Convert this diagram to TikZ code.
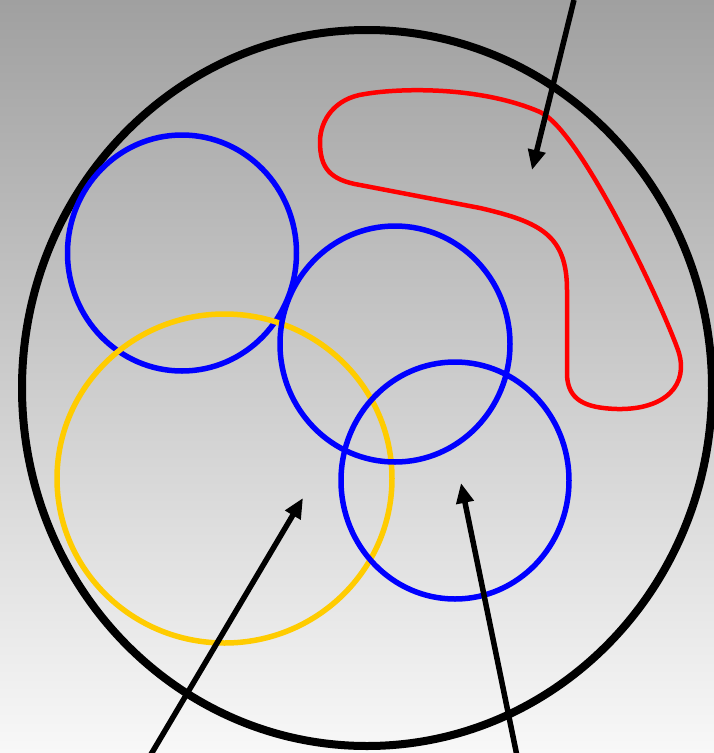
\documentclass[tikz,border=0pt]{standalone}
\usetikzlibrary{arrows.meta}
\definecolor{bgtop}{RGB}{160,160,160}
\definecolor{bgbot}{RGB}{248,248,248}
\definecolor{ringblue}{RGB}{0,0,255}
\definecolor{ringyellow}{RGB}{255,204,0}
\definecolor{loopred}{RGB}{255,0,0}
\tikzset{
  bluering/.style={draw=ringblue, line width=5.5pt},
  yellowring/.style={draw=ringyellow, line width=5.5pt},
  outerring/.style={draw=black, line width=8pt},
  redloop/.style={draw=loopred, line width=4.5pt},
  pointer/.style={draw=black, line width=5.5pt, -{Triangle[length=20pt,width=17pt]}}
}
\begin{document}
\begin{tikzpicture}[x=1pt,y=-1pt]
\useasboundingbox (0,0) rectangle (714,753);
\shade[top color=bgtop, bottom color=bgbot] (0,0) rectangle (714,753);
% outer ring
\draw[outerring] (367,388) ellipse [x radius=345, y radius=358];
% red loop
\draw[redloop] (365,94) .. controls (400,88) and (480,86) .. (540,112)
  .. controls (580,130) and (660,300) .. (678,350)
  .. controls (690,385) and (665,410) .. (617,409)
  .. controls (585,408) and (568,400) .. (567,375)
  -- (567,290)
  .. controls (567,235) and (540,222) .. (480,208)
  -- (360,185)
  .. controls (330,180) and (320,168) .. (320,142)
  .. controls (320,120) and (335,98) .. (365,94) -- cycle;
% blue rings
\draw[bluering] (182,253) ellipse [x radius=114.5, y radius=118];
\draw[yellowring] (224.5,478.5) ellipse [x radius=167.5, y radius=164.5];
\draw[bluering] (395,344) ellipse [x radius=115, y radius=118];
\draw[bluering] (455,480.5) ellipse [x radius=114, y radius=118.5];
% arrows
\coordinate (a1s) at (574,0);
\coordinate (a1e) at (532,170);
\coordinate (a2s) at (150,756);
\coordinate (a2e) at (303,498);
\coordinate (a3s) at (517,756);
\coordinate (a3e) at (461,483);
\draw[pointer] (a1s) -- (a1e);
\draw[pointer] (a2s) -- (a2e);
\draw[pointer] (a3s) -- (a3e);
\end{tikzpicture}
\end{document}
